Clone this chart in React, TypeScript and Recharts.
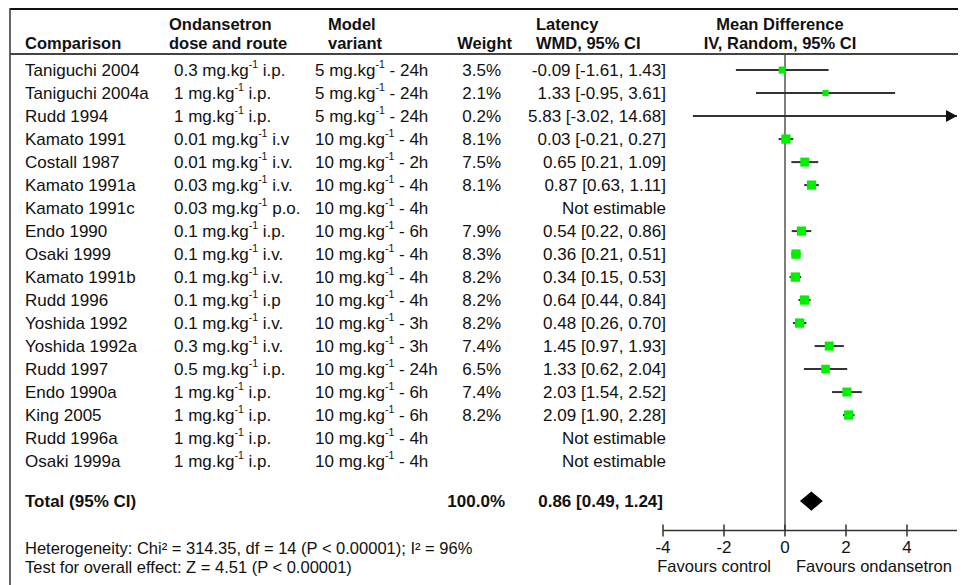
import React from 'react';
import {
  ScatterChart,
  Scatter,
  XAxis,
  YAxis,
  ReferenceLine,
  ReferenceDot,
  ReferenceArea,
} from 'recharts';

// study rows, top to bottom
const comparisons = [
  'Taniguchi 2004', 'Taniguchi 2004a', 'Rudd 1994', 'Kamato 1991', 'Costall 1987',
  'Kamato 1991a', 'Kamato 1991c', 'Endo 1990', 'Osaki 1999', 'Kamato 1991b',
  'Rudd 1996', 'Yoshida 1992', 'Yoshida 1992a', 'Rudd 1997', 'Endo 1990a',
  'King 2005', 'Rudd 1996a', 'Osaki 1999a',
];
const doses = [
  '0.3 mg.kg-1 i.p.', '1 mg.kg-1 i.p.', '1 mg.kg-1 i.p.', '0.01 mg.kg-1 i.v', '0.01 mg.kg-1 i.v.',
  '0.03 mg.kg-1 i.v.', '0.03 mg.kg-1 p.o.', '0.1 mg.kg-1 i.p.', '0.1 mg.kg-1 i.v.', '0.1 mg.kg-1 i.v.',
  '0.1 mg.kg-1 i.p', '0.1 mg.kg-1 i.v.', '0.3 mg.kg-1 i.v.', '0.5 mg.kg-1 i.p.', '1 mg.kg-1 i.p.',
  '1 mg.kg-1 i.p.', '1 mg.kg-1 i.p.', '1 mg.kg-1 i.p.',
];
const models = [
  '5 mg.kg-1 - 24h', '5 mg.kg-1 - 24h', '5 mg.kg-1 - 24h', '10 mg.kg-1 - 4h', '10 mg.kg-1 - 2h',
  '10 mg.kg-1 - 4h', '10 mg.kg-1 - 4h', '10 mg.kg-1 - 6h', '10 mg.kg-1 - 4h', '10 mg.kg-1 - 4h',
  '10 mg.kg-1 - 4h', '10 mg.kg-1 - 3h', '10 mg.kg-1 - 3h', '10 mg.kg-1 - 24h', '10 mg.kg-1 - 6h',
  '10 mg.kg-1 - 6h', '10 mg.kg-1 - 4h', '10 mg.kg-1 - 4h',
];
const weights = [3.5, 2.1, 0.2, 8.1, 7.5, 8.1, null, 7.9, 8.3, 8.2, 8.2, 8.2, 7.4, 6.5, 7.4, 8.2, null, null];
const means = [-0.09, 1.33, 5.83, 0.03, 0.65, 0.87, null, 0.54, 0.36, 0.34, 0.64, 0.48, 1.45, 1.33, 2.03, 2.09, null, null];
const lowers = [-1.61, -0.95, -3.02, -0.21, 0.21, 0.63, null, 0.22, 0.21, 0.15, 0.44, 0.26, 0.97, 0.62, 1.54, 1.9, null, null];
const uppers = [1.43, 3.61, 14.68, 0.27, 1.09, 1.11, null, 0.86, 0.51, 0.53, 0.84, 0.7, 1.93, 2.04, 2.52, 2.28, null, null];

const totalWeight = 100.0;
const totalMean = 0.86;
const totalLower = 0.49;
const totalUpper = 1.24;

const xTicks = [-4, -2, 0, 2, 4];

const W = 958;
const H = 577;
const X_MIN = -4;
const X_MAX = 5.64;
const ROW_TOP = -0.7;
const ROW_BOTTOM = 20.02;
const TOTAL_ROW = 18.74;
const FONT = '"Liberation Sans", Arial, sans-serif';
const FS = 17;

const rowIdx = comparisons.map((_, i) => i);
const points = rowIdx
  .filter((i) => means[i] != null)
  .map((i) => ({ x: means[i] as number, y: i, w: weights[i] as number }));

const fmt = (v: number) => v.toFixed(2);

// "kg-1" -> superscript -1
function Sup({ x, y, s }: any) {
  const parts = s.split('kg-1');
  return (
    <text x={x} y={y} dominantBaseline="central" fontSize={FS} fill="#111">
      {parts[0]}kg
      <tspan fontSize={10.5} dy={-6}>-1</tspan>
      <tspan dy={6}>{parts[1]}</tspan>
    </text>
  );
}

function RowTick(props: any) {
  const { y, payload } = props;
  const v = payload.value;
  if (v === TOTAL_ROW) {
    return (
      <g fontFamily={FONT} fontWeight={700} fontSize={FS} fill="#111">
        <text x={17} y={y} dominantBaseline="central">Total (95% CI)</text>
        <text x={497} y={y} textAnchor="end" dominantBaseline="central">{totalWeight.toFixed(1)}%</text>
        <text x={655} y={y} textAnchor="end" dominantBaseline="central">
          {`${fmt(totalMean)} [${fmt(totalLower)}, ${fmt(totalUpper)}]`}
        </text>
      </g>
    );
  }
  const i = Math.round(v);
  const m = means[i];
  return (
    <g fontFamily={FONT} fontSize={FS} fill="#111">
      <text x={17} y={y} dominantBaseline="central">{comparisons[i]}</text>
      <Sup x={166} y={y} s={doses[i]} />
      <Sup x={307} y={y} s={models[i]} />
      {weights[i] != null && (
        <text x={493} y={y} textAnchor="end" dominantBaseline="central">{(weights[i] as number).toFixed(1)}%</text>
      )}
      <text x={658} y={y} textAnchor="end" dominantBaseline="central">
        {m == null ? 'Not estimable' : `${fmt(m)} [${fmt(lowers[i] as number)}, ${fmt(uppers[i] as number)}]`}
      </text>
    </g>
  );
}

function AxisTick(props: any) {
  const { x, y, payload } = props;
  return (
    <g>
      <line x1={x} x2={x} y1={y - 6} y2={y + 6} stroke="#333" strokeWidth={1.5} />
      <text x={x} y={y + 17} textAnchor="middle" dominantBaseline="central" fontFamily={FONT} fontSize={FS} fill="#111">
        {payload.value}
      </text>
    </g>
  );
}

const square = (props: any) => {
  const { cx, cy, payload } = props;
  if (payload.x > X_MAX) return <g />;
  const s = 3 + 2.2 * Math.sqrt(payload.w);
  return <rect x={cx - s / 2} y={cy - s / 2} width={s} height={s} fill="#00f000" />;
};

const arrow = (props: any) => {
  const { cx, cy } = props;
  return <polygon points={`${cx - 11},${cy - 6} ${cx},${cy} ${cx - 11},${cy + 6}`} fill="#111" />;
};

const diamond = (props: any) => {
  const { x, y, width, height } = props;
  const cy = y + height / 2;
  return (
    <polygon
      points={`${x},${cy} ${x + width / 2},${y} ${x + width},${cy} ${x + width / 2},${y + height}`}
      fill="#000"
    />
  );
};

export default function App() {
  return (
    <div style={{ position: 'relative', width: W, height: H, fontFamily: FONT }}>
      <ScatterChart width={W} height={H} margin={{ top: 46, right: 9, bottom: 53.5, left: 654 }}>
        <XAxis
          type="number"
          dataKey="x"
          domain={[X_MIN, X_MAX]}
          ticks={xTicks}
          interval={0}
          allowDataOverflow
          height={1}
          tickLine={false}
          tickSize={0}
          tickMargin={0}
          axisLine={{ stroke: '#333', strokeWidth: 1.5 }}
          tick={<AxisTick />}
        />
        <YAxis
          type="number"
          dataKey="y"
          domain={[ROW_TOP, ROW_BOTTOM]}
          reversed
          allowDataOverflow
          ticks={[...rowIdx, TOTAL_ROW]}
          interval={0}
          width={1}
          axisLine={false}
          tickLine={false}
          tick={<RowTick />}
        />
        <ReferenceLine x={0} stroke="#555" strokeWidth={1.5} />
        {rowIdx
          .filter((i) => means[i] != null)
          .map((i) => (
            <ReferenceLine
              key={`ci${i}`}
              segment={[
                { x: Math.max(lowers[i] as number, X_MIN), y: i },
                { x: Math.min(uppers[i] as number, X_MAX), y: i },
              ]}
              stroke="#333"
              strokeWidth={2}
            />
          ))}
        {rowIdx
          .filter((i) => uppers[i] != null && (uppers[i] as number) > X_MAX)
          .map((i) => (
            <ReferenceDot key={`ar${i}`} x={X_MAX} y={i} shape={arrow} />
          ))}
        <ReferenceArea
          x1={totalLower}
          x2={totalUpper}
          y1={TOTAL_ROW - 0.42}
          y2={TOTAL_ROW + 0.42}
          shape={diamond}
        />
        <Scatter data={points} shape={square} isAnimationActive={false} />
      </ScatterChart>
      <svg
        width={W}
        height={H}
        style={{ position: 'absolute', left: 0, top: 0, pointerEvents: 'none' }}
        fontFamily={FONT}
      >
        <line x1={2} x2={W} y1={1} y2={1} stroke="#111" strokeWidth={2} />
        <line x1={2} x2={2} y1={0} y2={H} stroke="#333" strokeWidth={1.5} />
        <line x1={2} x2={W} y1={46} y2={46} stroke="#444" strokeWidth={2} />
        <g fontWeight={700} fontSize={16.5} fill="#111" dominantBaseline="central">
          <text x={17} y={35}>Comparison</text>
          <text x={161} y={16}>Ondansetron</text>
          <text x={161} y={35}>dose and route</text>
          <text x={320} y={16}>Model</text>
          <text x={320} y={35}>variant</text>
          <text x={504} y={35} textAnchor="end">Weight</text>
          <text x={528} y={16}>Latency</text>
          <text x={528} y={35}>WMD, 95% CI</text>
          <text x={772} y={16} textAnchor="middle">Mean Difference</text>
          <text x={772} y={35} textAnchor="middle">IV, Random, 95% CI</text>
        </g>
        <g fontSize={16.5} fill="#111" dominantBaseline="central">
          <text x={17} y={540}>Heterogeneity: Chi² = 314.35, df = 14 (P &lt; 0.00001); I² = 96%</text>
          <text x={17} y={559}>Test for overall effect: Z = 4.51 (P &lt; 0.00001)</text>
          <text x={763} y={558} textAnchor="end">Favours control</text>
          <text x={788} y={558}>Favours ondansetron</text>
        </g>
      </svg>
    </div>
  );
}
